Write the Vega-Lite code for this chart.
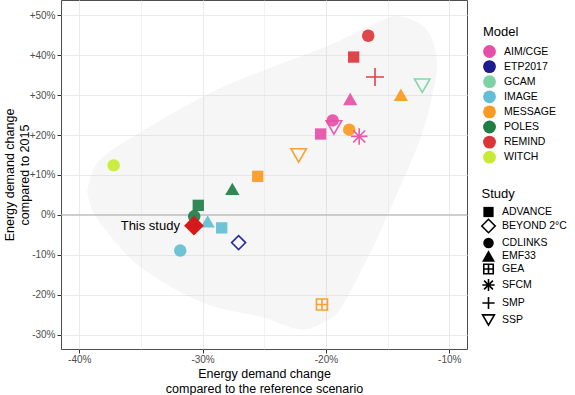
{
  "$schema": "https://vega.github.io/schema/vega-lite/v6.json",
  "width": 406,
  "height": 349,
  "autosize": {"type": "none"},
  "padding": {"left": 61, "top": 0, "right": 108, "bottom": 46},
  "background": "white",
  "config": {
    "font": "Liberation Sans",
    "view": {"stroke": "#4d4d4d", "strokeWidth": 1},
    "axis": {
      "domain": false,
      "tickColor": "#333333",
      "tickSize": 4,
      "tickWidth": 1,
      "labelColor": "#4d4d4d",
      "labelFontSize": 10,
      "gridColor": "#ebebeb",
      "titleFontSize": 12.5,
      "titleFontWeight": "normal",
      "titleColor": "#000000",
      "titleLineHeight": 15
    },
    "legend": {
      "titleFontSize": 13,
      "titleFontWeight": "normal",
      "titleColor": "#000000",
      "labelFontSize": 10.5,
      "labelColor": "#000000",
      "padding": 0,
      "symbolOpacity": 1
    }
  },
  "datasets": {
    "points": [
      {"model": "REMIND", "study": "CDLINKS", "x": -16.57, "y": 44.87},
      {"model": "REMIND", "study": "ADVANCE", "x": -17.75, "y": 39.54},
      {"model": "REMIND", "study": "SMP", "x": -16.02, "y": 34.53},
      {"model": "MESSAGE", "study": "EMF33", "x": -13.92, "y": 30.1},
      {"model": "GCAM", "study": "SSP", "x": -12.19, "y": 32.36},
      {"model": "AIM/CGE", "study": "EMF33", "x": -18.03, "y": 29.03},
      {"model": "AIM/CGE", "study": "CDLINKS", "x": -19.45, "y": 23.67},
      {"model": "AIM/CGE", "study": "SSP", "x": -19.35, "y": 21.92},
      {"model": "MESSAGE", "study": "CDLINKS", "x": -18.11, "y": 21.35},
      {"model": "AIM/CGE", "study": "SFCM", "x": -17.3, "y": 19.67},
      {"model": "AIM/CGE", "study": "ADVANCE", "x": -20.43, "y": 20.27},
      {"model": "MESSAGE", "study": "SSP", "x": -22.21, "y": 14.91},
      {"model": "MESSAGE", "study": "ADVANCE", "x": -25.53, "y": 9.66},
      {"model": "WITCH", "study": "CDLINKS", "x": -37.21, "y": 12.41},
      {"model": "POLES", "study": "EMF33", "x": -27.59, "y": 6.51},
      {"model": "POLES", "study": "ADVANCE", "x": -30.35, "y": 2.4},
      {"model": "POLES", "study": "CDLINKS", "x": -30.68, "y": -0.35},
      {"model": "IMAGE", "study": "EMF33", "x": -29.59, "y": -1.6},
      {"model": "IMAGE", "study": "ADVANCE", "x": -28.45, "y": -3.25},
      {"model": "ETP2017", "study": "BEYOND 2°C", "x": -27.08, "y": -6.93},
      {"model": "IMAGE", "study": "CDLINKS", "x": -31.81, "y": -8.93},
      {"model": "MESSAGE", "study": "GEA", "x": -20.32, "y": -22.45}
    ],
    "hull": [
      {"i": 1, "x": -39.29, "y": 7.08},
      {"i": 2, "x": -38.32, "y": 13.84},
      {"i": 3, "x": -35.08, "y": 20.59},
      {"i": 4, "x": -29.97, "y": 29.6},
      {"i": 5, "x": -25.35, "y": 35.86},
      {"i": 6, "x": -19.68, "y": 42.57},
      {"i": 7, "x": -15.38, "y": 48.87},
      {"i": 8, "x": -13.76, "y": 49.62},
      {"i": 9, "x": -11.82, "y": 46.37},
      {"i": 10, "x": -11.01, "y": 38.86},
      {"i": 11, "x": -11.33, "y": 30.6},
      {"i": 12, "x": -12.38, "y": 18.84},
      {"i": 13, "x": -15.05, "y": -0.43},
      {"i": 14, "x": -16.68, "y": -11.19},
      {"i": 15, "x": -18.86, "y": -23.7},
      {"i": 16, "x": -20.24, "y": -26.96},
      {"i": 17, "x": -22.1, "y": -28.7},
      {"i": 18, "x": -25.35, "y": -25.45},
      {"i": 19, "x": -29.97, "y": -21.97},
      {"i": 20, "x": -35.08, "y": -12.96},
      {"i": 21, "x": -38.32, "y": -1.93},
      {"i": 22, "x": -39.13, "y": 3.08}
    ],
    "zero": [{"y": 0}],
    "thisstudy": [{"x": -30.7, "y": -2.68, "label": "This study"}]
  },
  "layer": [
    {
      "data": {"name": "hull"},
      "mark": {"type": "line", "interpolate": "cardinal-closed", "fill": "#cccccc", "fillOpacity": 0.18, "strokeWidth": 0, "strokeOpacity": 0},
      "encoding": {
        "x": {
          "field": "x", "type": "quantitative",
          "scale": {"domain": [-41.48, -8.56], "nice": false, "zero": false},
          "axis": {
            "values": [-40, -35, -30, -25, -20, -15, -10],
            "labelExpr": "datum.value % 10 == 0 ? datum.value + '%' : ''",
            "tickOpacity": {"condition": {"test": "datum.value % 10 != 0", "value": 0}, "value": 1},
            "gridWidth": {"condition": {"test": "datum.value % 10 != 0", "value": 0.6}, "value": 1.1},
            "labelPadding": 1,
            "titlePadding": 3,
            "title": ["Energy demand change", "compared to the reference scenario"]
          }
        },
        "y": {
          "field": "y", "type": "quantitative",
          "scale": {"domain": [-33.58, 53.83], "nice": false, "zero": false},
          "axis": {
            "values": [-30, -25, -20, -15, -10, -5, 0, 5, 10, 15, 20, 25, 30, 35, 40, 45, 50],
            "labelExpr": "datum.value % 10 == 0 ? (datum.value > 0 ? '+' : '') + datum.value + '%' : ''",
            "tickOpacity": {"condition": {"test": "datum.value % 10 != 0", "value": 0}, "value": 1},
            "gridWidth": {"condition": {"test": "datum.value % 10 != 0", "value": 0.6}, "value": 1.1},
            "labelPadding": 2,
            "titlePadding": -2,
            "title": ["Energy demand change", "compared to 2015"]
          }
        },
        "order": {"field": "i", "type": "quantitative"}
      }
    },
    {
      "data": {"name": "zero"},
      "mark": {"type": "rule", "color": "#aaaaaa", "strokeWidth": 1},
      "encoding": {"y": {"field": "y", "type": "quantitative"}}
    },
    {
      "data": {"name": "points"},
      "mark": {"type": "point", "filled": true, "opacity": 0.92},
      "encoding": {
        "x": {"field": "x", "type": "quantitative"},
        "y": {"field": "y", "type": "quantitative"},
        "color": {
          "field": "model", "type": "nominal",
          "scale": {
            "domain": ["AIM/CGE", "ETP2017", "GCAM", "IMAGE", "MESSAGE", "POLES", "REMIND", "WITCH"],
            "range": ["#e64fa6", "#1c1c8e", "#7dd3a6", "#62bfd3", "#f99a22", "#1f7d46", "#dc3539", "#c8ea32"]
          },
          "legend": {
            "title": "Model", "orient": "none", "legendX": 422, "legendY": 26,
            "symbolType": "circle", "symbolSize": 165,
            "symbolStrokeColor": "transparent", "symbolStrokeWidth": 0,
            "titlePadding": 6, "rowPadding": 2.1, "labelOffset": 8
          }
        },
        "stroke": {
          "field": "model", "type": "nominal",
          "scale": {
            "domain": ["AIM/CGE", "ETP2017", "GCAM", "IMAGE", "MESSAGE", "POLES", "REMIND", "WITCH"],
            "range": ["#e64fa6", "#1c1c8e", "#7dd3a6", "#62bfd3", "#f99a22", "#1f7d46", "#dc3539", "#c8ea32"]
          },
          "legend": null
        },
        "shape": {
          "field": "study", "type": "nominal",
          "scale": {
            "domain": ["ADVANCE", "BEYOND 2°C", "CDLINKS", "EMF33", "GEA", "SFCM", "SMP", "SSP"],
            "range": ["square", "diamond", "circle", "triangle-up", "M-1,-1H1V1H-1ZM0,-1V1M-1,0H1", "M-1,0H1M0,-1V1M-0.72,-0.72L0.72,0.72M-0.72,0.72L0.72,-0.72", "M-1,0H1M0,-1V1", "triangle-down"]
          },
          "legend": {
            "title": "Study", "orient": "none", "legendX": 420.5, "legendY": 188,
            "symbolFillColor": {"expr": "(indexof(['ADVANCE','CDLINKS','EMF33'], datum.value) >= 0 ? 'black' : 'transparent')"},
            "symbolStrokeColor": "black",
            "symbolStrokeWidth": {"expr": "(indexof(['ADVANCE','CDLINKS','EMF33'], datum.value) >= 0 ? 0 : 1.6)"},
            "symbolSize": {"expr": "(datum.value == 'ADVANCE' ? 105 : datum.value == 'BEYOND 2°C' ? 180 : datum.value == 'CDLINKS' ? 110 : datum.value == 'EMF33' ? 169 : datum.value == 'GEA' ? 90 : datum.value == 'SFCM' ? 150 : datum.value == 'SMP' ? 150 : 140)"},
            "titlePadding": 4, "rowPadding": -2, "labelOffset": 6.5
          }
        },
        "size": {
          "condition": [
            {"test": "datum.study == 'ADVANCE'", "value": 128},
            {"test": "datum.study == 'BEYOND 2°C'", "value": 196},
            {"test": "datum.study == 'CDLINKS'", "value": 156},
            {"test": "datum.study == 'EMF33'", "value": 204},
            {"test": "datum.study == 'GEA'", "value": 121},
            {"test": "datum.study == 'SFCM'", "value": 272},
            {"test": "datum.study == 'SMP'", "value": 324}
          ],
          "value": 240
        },
        "fillOpacity": {
          "condition": {"test": "indexof(['ADVANCE','CDLINKS','EMF33'], datum.study) >= 0", "value": 1},
          "value": 0
        },
        "strokeWidth": {
          "condition": {"test": "indexof(['ADVANCE','CDLINKS','EMF33'], datum.study) >= 0", "value": 0},
          "value": 1.6
        }
      }
    },
    {
      "data": {"name": "thisstudy"},
      "mark": {"type": "point", "shape": "diamond", "filled": true, "color": "#d7191c", "size": 390, "opacity": 1},
      "encoding": {
        "x": {"field": "x", "type": "quantitative"},
        "y": {"field": "y", "type": "quantitative"}
      }
    },
    {
      "data": {"name": "thisstudy"},
      "mark": {"type": "text", "align": "right", "baseline": "middle", "dx": -14, "fontSize": 13, "color": "#000000"},
      "encoding": {
        "x": {"field": "x", "type": "quantitative"},
        "y": {"field": "y", "type": "quantitative"},
        "text": {"field": "label"}
      }
    }
  ]
}
